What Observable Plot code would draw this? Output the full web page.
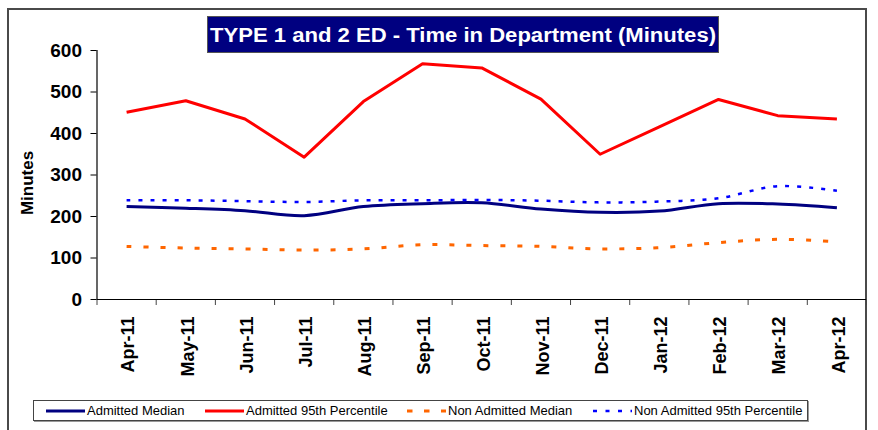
<!DOCTYPE html>
<html>
<head>
<meta charset="utf-8">
<script src="https://cdn.jsdelivr.net/npm/d3@7"></script>
<script src="https://cdn.jsdelivr.net/npm/@observablehq/plot@0.6"></script>
<style>
  html, body { margin: 0; padding: 0; background: #fff; }
  #wrap { position: relative; width: 878px; height: 430px; overflow: hidden; font-family: "Liberation Sans", Arial, sans-serif; }
  #frame { position: absolute; left: 7px; top: 8px; width: 860px; height: 440px; border: 2px solid #4a4a4a; box-sizing: border-box; }
  #chart { position: absolute; left: 0; top: 0; }
  #title { position: absolute; left: 207px; top: 16px; width: 512px; height: 37px; background: #000080; border: 1px solid #555; box-sizing: border-box; color: #fff; font-weight: bold; font-size: 20px; white-space: nowrap; overflow: hidden; }
  #title span { position: absolute; left: 2px; top: 50%; transform-origin: 0 50%; line-height: 1; }
  #ylabel { position: absolute; left: 28px; top: 183px; transform: translate(-50%, -50%) rotate(-90deg); font-weight: bold; font-size: 17px; white-space: nowrap; }
  #legend { position: absolute; left: 33px; top: 400px; width: 775px; height: 21px; border: 1px solid #444; box-shadow: 1px 1px 0 #999; box-sizing: border-box; background: #fff; }
  .item { position: absolute; top: 0; height: 19px; display: flex; align-items: center; font-size: 13px; white-space: nowrap; }
  .item svg { margin-right: 2px; }
</style>
</head>
<body>
<div id="wrap">
  <div id="frame"></div>
  <div id="chart"></div>
  <div id="title"><span>TYPE 1 and 2 ED - Time in Department (Minutes)</span></div>
  <div id="ylabel">Minutes</div>
  <div id="legend"></div>
</div>
<script>
const months = ["Apr-11","May-11","Jun-11","Jul-11","Aug-11","Sep-11","Oct-11","Nov-11","Dec-11","Jan-12","Feb-12","Mar-12","Apr-12"];
const admittedMedian = [224, 220, 214, 202, 224, 231, 233, 218, 210, 213, 231, 230, 221];
const admitted95 = [451, 479, 435, 343, 477, 568, 558, 483, 350, 416, 482, 443, 435];
const nonAdmittedMedian = [128, 124, 122, 119, 122, 132, 130, 128, 122, 125, 137, 145, 139];
const nonAdmitted95 = [239, 239, 237, 235, 239, 239, 240, 238, 234, 236, 244, 273, 262];
const yTicks = [0, 100, 200, 300, 400, 500, 600];

const seriesNames = ["Admitted Median", "Admitted 95th Percentile", "Non Admitted Median", "Non Admitted 95th Percentile"];
const seriesValues = [admittedMedian, admitted95, nonAdmittedMedian, nonAdmitted95];
const styles = {
  "Admitted Median": {stroke: "#000080", strokeWidth: 3, dash: null, curve: "catmull-rom"},
  "Admitted 95th Percentile": {stroke: "#ff0000", strokeWidth: 3, dash: null, curve: "linear"},
  "Non Admitted Median": {stroke: "#ff6600", strokeWidth: 3, dash: "5,12", curve: "catmull-rom"},
  "Non Admitted 95th Percentile": {stroke: "#0000ff", strokeWidth: 2.5, dash: "4,8", curve: "catmull-rom"}
};

const rows = seriesNames.map((name, s) => seriesValues[s].map((v, i) => ({series: name, i, value: v})));
const boundaries = d3.range(months.length + 1).map(i => i - 0.5);

const lineMarks = seriesNames.map((name, s) => Plot.line(rows[s], {
  x: "i", y: "value",
  stroke: styles[name].stroke,
  strokeWidth: styles[name].strokeWidth,
  strokeDasharray: styles[name].dash || undefined,
  strokeLinecap: "butt",
  curve: styles[name].curve
}));

const chart = Plot.plot({
  width: 878,
  height: 430,
  marginLeft: 96.5,
  marginRight: 12,
  marginTop: 50,
  marginBottom: 131,
  style: {fontFamily: "'Liberation Sans', Arial, sans-serif", color: "#000", background: "transparent", overflow: "visible"},
  x: {type: "linear", domain: [-0.5, months.length - 0.5]},
  y: {domain: [0, 600]},
  marks: [
    Plot.axisY(yTicks, {tickSize: 6, tickPadding: 9, fontSize: 19, fontWeight: "bold", label: null}),
    Plot.axisX(boundaries, {tickSize: 6, tickFormat: () => "", label: null, stroke: "#444"}),
    Plot.axisX(d3.range(months.length), {tickSize: 0, tickPadding: 17, tickRotate: -90, fontSize: 18, fontWeight: "bold", tickFormat: i => months[i], label: null, dx: 2}),
    Plot.ruleY([0], {stroke: "#000", strokeWidth: 1.2}),
    Plot.ruleX([-0.5], {stroke: "#000", strokeWidth: 1.2}),
    ...lineMarks
  ]
});
document.getElementById("chart").appendChild(chart);

// title: stretch text horizontally to span the box like the reference
const tspan = document.querySelector("#title span");
const natural = tspan.getBoundingClientRect().width;
const target = 506;
tspan.style.transform = `translateY(-50%) scaleX(${target / natural})`;

// legend
const legend = document.getElementById("legend");
const legendX = [12, 171, 373, 559];
seriesNames.forEach((name, s) => {
  const st = styles[name];
  const item = document.createElement("div");
  item.className = "item";
  item.style.left = legendX[s] + "px";
  const svg = d3.create("svg").attr("width", 39).attr("height", 8);
  svg.append("line").attr("x1", 0).attr("x2", 39).attr("y1", 4).attr("y2", 4)
    .attr("stroke", st.stroke).attr("stroke-width", st.strokeWidth)
    .attr("stroke-dasharray", st.dash ? (name === "Non Admitted Median" ? "5.5,11.5" : "4,8.5") : null);
  item.appendChild(svg.node());
  const t = document.createElement("span");
  t.textContent = name;
  item.appendChild(t);
  legend.appendChild(item);
});
</script>
</body>
</html>
